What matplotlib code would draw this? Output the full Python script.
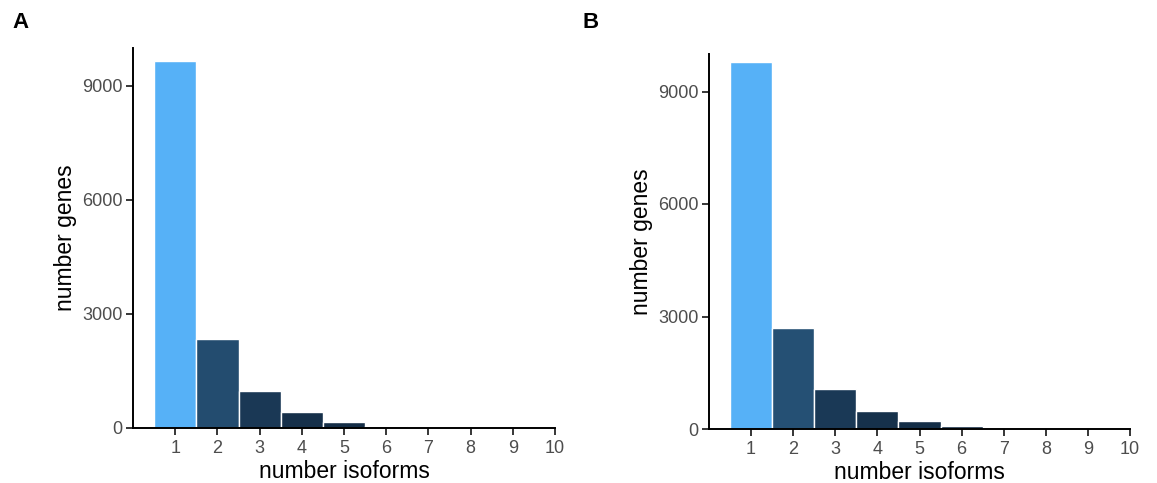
import matplotlib
matplotlib.use("Agg")
import matplotlib.pyplot as plt
import numpy as np
from matplotlib.colors import LinearSegmentedColormap, Normalize

plt.rcParams['font.family'] = ['Liberation Sans', 'DejaVu Sans']

isoforms = [1, 2, 3, 4, 5, 6, 7, 8, 9, 10]
genes_a = [9650, 2340, 975, 413, 168, 63, 22, 9, 4, 2]
genes_b = [9800, 2700, 1071, 482, 214, 80, 26, 10, 4, 2]
yticks = [0, 3000, 6000, 9000]
xticks = [1, 2, 3, 4, 5, 6, 7, 8, 9, 10]
panel_labels = ["A", "B"]

cmap = LinearSegmentedColormap.from_list("gg", ["#132B43", "#56B1F7"])

fig = plt.figure(figsize=(11.57, 4.83), dpi=100)
rects = [[133/1157, 55/483, 422/1157, 380/483],
         [709/1157, 54/483, 421/1157, 375/483]]
label_pos = [(12/1157, 1 - 22/483), (583/1157, 1 - 22/483)]

for vals, rect, lab, lp in zip([genes_a, genes_b], rects, panel_labels, label_pos):
    ax = fig.add_axes(rect)
    norm = Normalize(min(vals), max(vals))
    colors = [cmap(norm(v)) for v in vals]
    ax.bar(isoforms, vals, width=1.0, color=colors, edgecolor="white", linewidth=1.0)
    ax.set_xlim(0, 10)
    ax.set_ylim(0, 10000)
    ax.set_xticks(xticks)
    ax.set_yticks(yticks)
    for s in ["top", "right"]:
        ax.spines[s].set_visible(False)
    for s in ["left", "bottom"]:
        ax.spines[s].set_linewidth(1.4)
        ax.spines[s].set_color("black")
    ax.tick_params(axis="both", length=5, width=1.1, color="black",
                   labelsize=13, labelcolor="#4D4D4D", pad=2.5)
    ax.tick_params(axis="x", pad=3.5)
    ax.set_xlabel("number isoforms", fontsize=16.5, labelpad=2)
    ax.set_ylabel("number genes", fontsize=16.5, labelpad=4)
    fig.text(lp[0], lp[1], lab, fontsize=16, fontweight="bold", va="center", ha="left")

fig.savefig("out.png", dpi=100)
